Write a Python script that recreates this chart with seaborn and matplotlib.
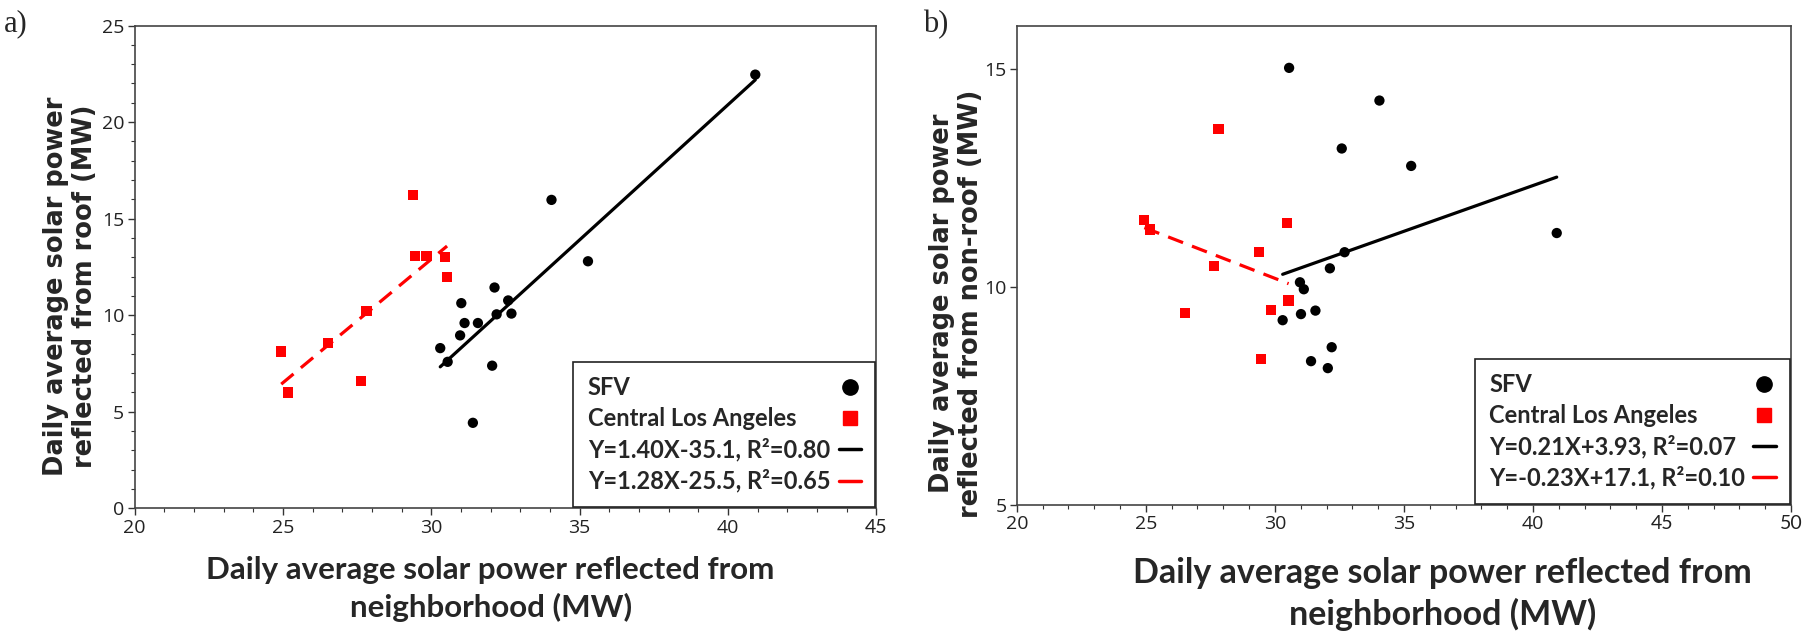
import numpy as np
import pandas as pd
import matplotlib
matplotlib.use("Agg")
import matplotlib.pyplot as plt
import seaborn as sns
from matplotlib.lines import Line2D
from matplotlib.ticker import MultipleLocator

# neighborhood reflected power (x), shared by both panels
sfv_x = [30.30, 30.55, 30.97, 31.01, 31.12, 31.40, 31.57, 32.05, 32.13, 32.20, 32.59, 32.70, 34.05, 35.28, 40.92]
cla_x = [24.94, 25.17, 26.51, 27.63, 27.81, 29.37, 29.45, 29.84, 30.46, 30.53]

# panel a: roof
sfv_roof = [8.29, 7.58, 8.95, 10.62, 9.59, 4.42, 9.59, 7.38, 11.43, 10.04, 10.76, 10.08, 15.97, 12.79, 22.46]
cla_roof = [8.12, 5.99, 8.55, 6.59, 10.21, 16.22, 13.06, 13.08, 13.00, 11.96]

# panel b: non-roof
sfv_nonroof = [9.24, 15.03, 10.11, 9.38, 9.95, 8.30, 9.46, 8.14, 10.43, 8.62, 13.18, 10.80, 14.28, 12.78, 11.24]
cla_nonroof = [11.54, 11.32, 9.41, 10.49, 13.63, 10.81, 8.35, 9.47, 11.47, 9.69]

# fitted lines (slope, intercept) as given in the legends
fit_roof = {"SFV": (1.40, -35.1), "CLA": (1.28, -25.5)}
fit_nonroof = {"SFV": (0.21, 3.93), "CLA": (-0.23, 17.1)}
labels_roof = ["Y=1.40X-35.1, R²=0.80", "Y=1.28X-25.5, R²=0.65"]
labels_nonroof = ["Y=0.21X+3.93, R²=0.07", "Y=-0.23X+17.1, R²=0.10"]

sns.set_style("ticks")
plt.rcParams["font.family"] = ["Lato", "DejaVu Sans"]

fig = plt.figure(figsize=(18.2, 6.32), dpi=100)
ax_a = fig.add_axes([0.0740, 0.1960, 0.4075, 0.7635])
ax_b = fig.add_axes([0.5587, 0.2010, 0.4254, 0.7585])

tick_font = ["Open Sans", "DejaVu Sans"]
LEG_SIZE = 17
LEG_PAD = 0.35


def draw_panel(ax, sfv_y, cla_y, fits, fit_labels, ylim, ylabel, yminor, xlab_size):
    df = pd.DataFrame({
        "x": sfv_x + cla_x,
        "y": sfv_y + cla_y,
        "region": ["SFV"] * len(sfv_x) + ["CLA"] * len(cla_x),
    })
    sns.scatterplot(data=df, x="x", y="y", hue="region", style="region",
                    palette={"SFV": "black", "CLA": "#ff0000"},
                    markers={"SFV": "o", "CLA": "s"}, s=55, linewidth=0,
                    legend=False, ax=ax, zorder=3)

    m, b = fits["SFV"]
    xs = np.array([min(sfv_x), max(sfv_x)])
    sns.lineplot(x=xs, y=m * xs + b, color="black", linewidth=2.3, ax=ax, zorder=2)
    m, b = fits["CLA"]
    xs = np.array([min(cla_x), max(cla_x)])
    sns.lineplot(x=xs, y=m * xs + b, color="#ff0000", linewidth=2.3, ax=ax, zorder=2)
    ax.lines[-1].set_dashes([5, 3])

    ax.set_ylim(*ylim)
    ax.yaxis.set_major_locator(MultipleLocator(5))
    if yminor:
        ax.yaxis.set_minor_locator(MultipleLocator(yminor))
    ax.xaxis.set_major_locator(MultipleLocator(5))
    ax.xaxis.set_minor_locator(MultipleLocator(1))
    ax.tick_params(which="major", direction="out", length=5, width=1, colors="#333333",
                   labelsize=14, labelcolor="#222222", pad=2.5)
    ax.tick_params(which="minor", direction="out", length=3, width=0.8, colors="#333333")
    for lab in ax.get_xticklabels() + ax.get_yticklabels():
        lab.set_family(tick_font)
    for sp in ax.spines.values():
        sp.set_visible(True)
        sp.set_color("#444444")
        sp.set_linewidth(1.2)

    ax.set_xlabel("Daily average solar power reflected from\nneighborhood (MW)",
                  fontsize=xlab_size, fontweight="bold", linespacing=1.35)
    ax.set_ylabel(ylabel, fontsize=18.5, fontweight="bold", family="DejaVu Sans",
                  linespacing=1.15)

    handles = [
        Line2D([], [], marker="o", color="black", linestyle="none", markersize=11),
        Line2D([], [], marker="s", color="#ff0000", linestyle="none", markersize=10),
        Line2D([], [], color="black", linewidth=2.5),
        Line2D([], [], color="#ff0000", linewidth=2.5),
    ]
    leg = ax.legend(handles, ["SFV", "Central Los Angeles"] + fit_labels,
                    loc="lower right", markerfirst=False, frameon=True, fancybox=False,
                    borderaxespad=0.05, handlelength=0.95, handletextpad=LEG_PAD,
                    labelspacing=0.33, borderpad=0.6,
                    prop={"family": ["Lato", "DejaVu Sans"], "weight": "bold", "size": LEG_SIZE})
    leg.get_frame().set_edgecolor("#222222")
    leg.get_frame().set_linewidth(1.2)
    leg.get_frame().set_alpha(1)
    return leg


leg_a = draw_panel(ax_a, sfv_roof, cla_roof, fit_roof, labels_roof, (0, 25),
                   "Daily average solar power\nreflected from roof (MW)", 1, 22.5)
ax_a.set_xlim(20, 45)
ax_a.xaxis.set_label_coords(0.48, -0.1)
ax_a.yaxis.set_label_coords(-0.05, 0.46)

leg_b = draw_panel(ax_b, sfv_nonroof, cla_nonroof, fit_nonroof, labels_nonroof, (5, 16),
                   "Daily average solar power\nreflected from non-roof (MW)", None, 24.5)
ax_b.set_xlim(20, 50)
ax_b.xaxis.set_label_coords(0.55, -0.108)
ax_b.yaxis.set_label_coords(-0.043, 0.42)

fig.text(0.002, 0.985, "a)", fontsize=22, family="Liberation Serif", va="top", ha="left")
fig.text(0.507, 0.985, "b)", fontsize=22, family="Liberation Serif", va="top", ha="left")

# left-align legend texts while keeping the handles in a right-hand column
fig.canvas.draw()
renderer = fig.canvas.get_renderer()
for leg in (leg_a, leg_b):
    texts = leg.get_texts()
    widths = [t.get_window_extent(renderer).width for t in texts]
    items = leg._legend_handle_box.get_children()[0].get_children()
    for item, w in zip(items, widths):
        item.sep = LEG_PAD * LEG_SIZE + (max(widths) - w) * 72 / fig.dpi

fig.savefig("out.png", dpi=100)
